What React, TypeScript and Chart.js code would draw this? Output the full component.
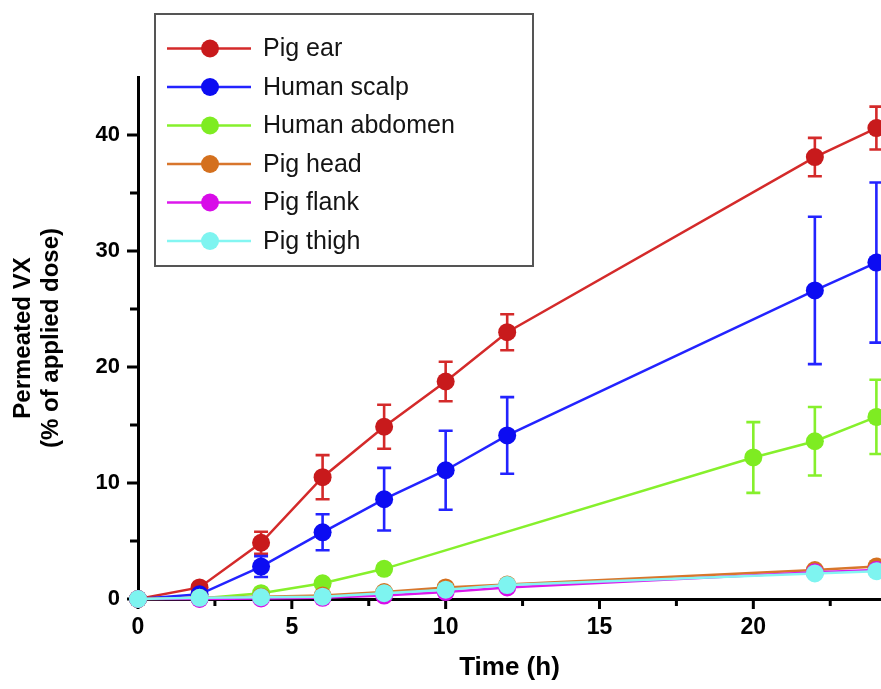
import React, { useEffect, useRef } from "react";
import { Chart, registerables } from "chart.js";

Chart.register(...registerables);

// ---- data ----
const TIMES = [0, 2, 4, 6, 8, 10, 12, 22, 24];
const TIMES_ABDOMEN = [0, 2, 4, 6, 8, 20, 22, 24];

const PIG_EAR = [0, 1.0, 4.85, 10.5, 14.85, 18.75, 23.0, 38.1, 40.6];
const PIG_EAR_ERR = [0, 0.3, 0.95, 1.9, 1.9, 1.7, 1.55, 1.65, 1.85];

const HUMAN_SCALP = [0, 0.4, 2.8, 5.75, 8.6, 11.1, 14.1, 26.6, 29.0];
const HUMAN_SCALP_ERR = [0, 0.2, 0.9, 1.55, 2.7, 3.4, 3.3, 6.35, 6.9];

const HUMAN_ABDOMEN = [0, 0.05, 0.5, 1.35, 2.6, 12.2, 13.6, 15.7];
const HUMAN_ABDOMEN_ERR = [0, 0, 0.15, 0.2, 0.3, 3.05, 2.95, 3.2];

const PIG_HEAD = [0, 0.1, 0.2, 0.3, 0.6, 1.0, 1.25, 2.5, 2.8];
const PIG_FLANK = [0, 0, 0.05, 0.1, 0.3, 0.6, 1.0, 2.3, 2.5];
const PIG_THIGH = [0, 0.1, 0.15, 0.2, 0.5, 0.8, 1.2, 2.2, 2.4];

const SERIES_LABELS = ["Pig ear", "Human scalp", "Human abdomen", "Pig head", "Pig flank", "Pig thigh"];
const SERIES_LINE_COLORS = ["#d42a2a", "#2323ff", "#86f02c", "#d8762c", "#dc18ec", "#84f6f2"];
const SERIES_POINT_COLORS = ["#c81a1c", "#0c0cf2", "#7eec22", "#d4701e", "#d80ce8", "#7ef4f0"];

const Y_MAJOR_TICKS = [0, 10, 20, 30, 40];
const Y_MINOR_TICKS = [5, 15, 25, 35];
const X_MAJOR_TICKS = [0, 5, 10, 15, 20];
const X_MINOR_TICKS = [2.5, 7.5, 12.5, 17.5, 22.5];

const FONT = '"Liberation Sans", Arial, Helvetica, sans-serif';

const SERIES_X = [TIMES, TIMES, TIMES_ABDOMEN, TIMES, TIMES, TIMES];
const SERIES_Y = [PIG_EAR, HUMAN_SCALP, HUMAN_ABDOMEN, PIG_HEAD, PIG_FLANK, PIG_THIGH];
const SERIES_ERR: (number[] | null)[] = [PIG_EAR_ERR, HUMAN_SCALP_ERR, HUMAN_ABDOMEN_ERR, null, null, null];

const errorBarPlugin = {
  id: "errorBars",
  beforeDatasetDraw(chart: any, args: any) {
    const i = args.index;
    const errs = SERIES_ERR[i];
    if (!errs) return;
    const xs = chart.scales.x;
    const ys = chart.scales.y;
    const ctx = chart.ctx;
    ctx.save();
    ctx.strokeStyle = SERIES_LINE_COLORS[i];
    ctx.lineWidth = 2.6;
    const xv = SERIES_X[i];
    const yv = SERIES_Y[i];
    for (let k = 0; k < xv.length; k++) {
      const e = errs[k];
      if (!e) continue;
      const px = xs.getPixelForValue(xv[k]);
      const top = ys.getPixelForValue(yv[k] + e);
      const bot = ys.getPixelForValue(yv[k] - e);
      ctx.beginPath();
      ctx.moveTo(px, top);
      ctx.lineTo(px, bot);
      ctx.moveTo(px - 7, top);
      ctx.lineTo(px + 7, top);
      ctx.moveTo(px - 7, bot);
      ctx.lineTo(px + 7, bot);
      ctx.stroke();
    }
    ctx.restore();
  },
};

const tickPlugin = {
  id: "axisTicks",
  beforeDatasetsDraw(chart: any) {
    const xs = chart.scales.x;
    const ys = chart.scales.y;
    const ctx = chart.ctx;
    const area = chart.chartArea;
    ctx.save();
    ctx.strokeStyle = "#000";
    ctx.lineWidth = 3;
    ctx.beginPath();
    Y_MAJOR_TICKS.forEach((v) => {
      const py = ys.getPixelForValue(v);
      ctx.moveTo(area.left, py);
      ctx.lineTo(area.left - 11, py);
    });
    Y_MINOR_TICKS.forEach((v) => {
      const py = ys.getPixelForValue(v);
      ctx.moveTo(area.left, py);
      ctx.lineTo(area.left - 8, py);
    });
    X_MAJOR_TICKS.forEach((v) => {
      const px = xs.getPixelForValue(v);
      ctx.moveTo(px, area.bottom);
      ctx.lineTo(px, area.bottom + 10);
    });
    X_MINOR_TICKS.forEach((v) => {
      const px = xs.getPixelForValue(v);
      ctx.moveTo(px, area.bottom);
      ctx.lineTo(px, area.bottom + 7);
    });
    ctx.stroke();
    ctx.restore();
  },
};

const legendPlugin = {
  id: "boxLegend",
  afterDraw(chart: any) {
    const ctx = chart.ctx;
    ctx.save();
    ctx.fillStyle = "#ffffff";
    ctx.fillRect(155, 14, 378, 252);
    ctx.strokeStyle = "#555555";
    ctx.lineWidth = 2;
    ctx.strokeRect(155, 14, 378, 252);
    SERIES_LABELS.forEach((label, i) => {
      const y = 48.5 + 38.5 * i;
      ctx.strokeStyle = SERIES_LINE_COLORS[i];
      ctx.lineWidth = 2.5;
      ctx.beginPath();
      ctx.moveTo(167, y);
      ctx.lineTo(251, y);
      ctx.stroke();
      ctx.fillStyle = SERIES_POINT_COLORS[i];
      ctx.beginPath();
      ctx.arc(210, y, 9, 0, Math.PI * 2);
      ctx.fill();
      ctx.fillStyle = "#141414";
      ctx.font = `25px ${FONT}`;
      ctx.textAlign = "left";
      ctx.textBaseline = "middle";
      ctx.fillText(label, 263, y + 1);
    });
    ctx.restore();
  },
};

export default function App() {
  const ref = useRef<HTMLCanvasElement | null>(null);

  useEffect(() => {
    if (!ref.current) return;
    const datasets = SERIES_LABELS.map((label, i) => ({
      label,
      data: SERIES_X[i].map((x, k) => ({ x, y: SERIES_Y[i][k] })),
      borderColor: SERIES_LINE_COLORS[i],
      backgroundColor: SERIES_POINT_COLORS[i],
      pointBackgroundColor: SERIES_POINT_COLORS[i],
      pointBorderWidth: 0,
      pointRadius: 9,
      pointHoverRadius: 9,
      borderWidth: 2.5,
      tension: 0,
      fill: false,
      clip: false as any,
      order: SERIES_LABELS.length - i,
    }));

    const chart = new Chart(ref.current, {
      type: "line",
      data: { datasets },
      plugins: [errorBarPlugin, tickPlugin, legendPlugin],
      options: {
        animation: false,
        responsive: false,
        devicePixelRatio: 1,
        layout: { autoPadding: false, padding: { top: 77, right: 0, bottom: 0, left: 0 } },
        plugins: {
          legend: { display: false },
          tooltip: { enabled: false },
          title: { display: false },
        },
        scales: {
          x: {
            type: "linear",
            min: 0,
            max: 24.15,
            afterFit: (s: any) => {
              s.height = 90;
            },
            grid: { display: false, drawTicks: false },
            border: { display: true, color: "#000", width: 3 },
            ticks: {
              stepSize: 2.5,
              includeBounds: false,
              autoSkip: false,
              maxRotation: 0,
              padding: 15,
              color: "#000",
              font: { family: FONT, size: 23, weight: "bold" },
              callback: (v: any) => (Number(v) % 5 === 0 ? String(v) : ""),
            },
            title: {
              display: true,
              text: "Time (h)",
              color: "#000",
              font: { family: FONT, size: 26, weight: "bold" },
              padding: { top: 0, bottom: 6 },
            },
          },
          y: {
            type: "linear",
            min: 0,
            max: 45,
            afterFit: (s: any) => {
              s.width = 138;
            },
            grid: { display: false, drawTicks: false },
            border: { display: true, color: "#000", width: 3 },
            ticks: {
              stepSize: 5,
              includeBounds: false,
              autoSkip: false,
              padding: 18,
              color: "#000",
              font: { family: FONT, size: 22, weight: "bold" },
              callback: (v: any) => (Number(v) % 10 === 0 ? String(v) : ""),
            },
            title: {
              display: true,
              text: ["Permeated VX", "(% of applied dose)"],
              color: "#000",
              font: { family: FONT, size: 24, weight: "bold", lineHeight: 1.17 },
              padding: { top: 9, bottom: 0 },
            },
          },
        },
      } as any,
    });
    return () => chart.destroy();
  }, []);

  return (
    <div style={{ position: "absolute", left: 0, top: 0, width: 881, height: 689, background: "#fff" }}>
      <canvas ref={ref} width={881} height={689} style={{ display: "block" }} />
    </div>
  );
}
